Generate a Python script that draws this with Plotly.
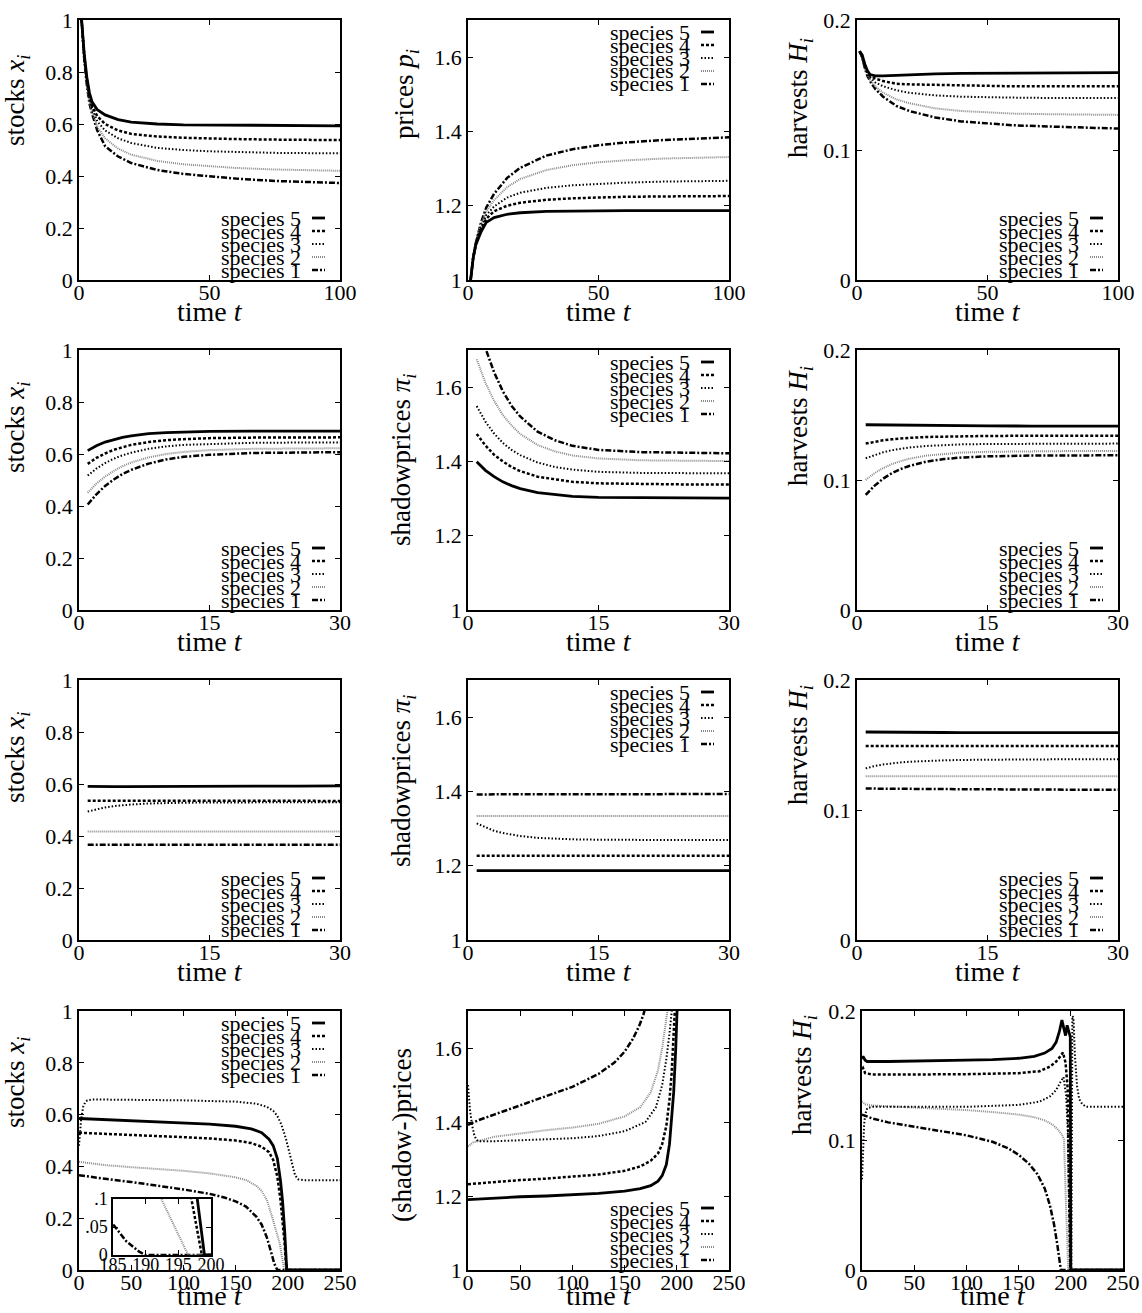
import plotly.graph_objects as go

W, H = 1142, 1313
FONT = "Liberation Serif, DejaVu Serif, serif"

# ---------------- Row 1 : t = 0..100 ----------------
r1_t = [1, 2, 3, 4, 5, 7, 10, 15, 20, 30, 40, 50, 60, 75, 100]
r1_x_s5 = [1.0, 0.87, 0.78, 0.72, 0.685, 0.655, 0.635, 0.617, 0.607, 0.600, 0.597, 0.596, 0.595, 0.594, 0.593]
r1_x_s4 = [1.0, 0.86, 0.77, 0.71, 0.67, 0.63, 0.60, 0.575, 0.562, 0.552, 0.547, 0.544, 0.542, 0.540, 0.538]
r1_x_s3 = [1.0, 0.86, 0.76, 0.70, 0.66, 0.61, 0.575, 0.545, 0.527, 0.508, 0.500, 0.495, 0.492, 0.489, 0.487]
r1_x_s2 = [1.0, 0.85, 0.75, 0.69, 0.65, 0.59, 0.545, 0.505, 0.482, 0.458, 0.445, 0.437, 0.431, 0.425, 0.420]
r1_x_s1 = [1.0, 0.85, 0.75, 0.68, 0.64, 0.575, 0.515, 0.475, 0.450, 0.423, 0.408, 0.398, 0.390, 0.381, 0.373]

r1_p_s5 = [1.0, 1.06, 1.095, 1.115, 1.13, 1.155, 1.168, 1.177, 1.181, 1.185, 1.186, 1.187, 1.187, 1.187, 1.187]
r1_p_s4 = [1.0, 1.06, 1.095, 1.12, 1.135, 1.165, 1.185, 1.200, 1.208, 1.216, 1.220, 1.222, 1.224, 1.225, 1.226]
r1_p_s3 = [1.0, 1.06, 1.10, 1.125, 1.14, 1.175, 1.198, 1.222, 1.235, 1.248, 1.255, 1.259, 1.262, 1.265, 1.267]
r1_p_s2 = [1.0, 1.06, 1.10, 1.13, 1.15, 1.185, 1.215, 1.250, 1.272, 1.296, 1.309, 1.317, 1.322, 1.327, 1.331]
r1_p_s1 = [1.0, 1.06, 1.10, 1.13, 1.155, 1.195, 1.232, 1.275, 1.302, 1.335, 1.352, 1.363, 1.370, 1.377, 1.384]

r1_h_s5 = [0.176, 0.173, 0.166, 0.161, 0.158, 0.157, 0.157, 0.1575, 0.158, 0.1585, 0.159, 0.159, 0.159, 0.1595, 0.1595]
r1_h_s4 = [0.176, 0.172, 0.165, 0.160, 0.157, 0.155, 0.153, 0.151, 0.1505, 0.150, 0.1495, 0.149, 0.149, 0.149, 0.149]
r1_h_s3 = [0.176, 0.172, 0.164, 0.159, 0.156, 0.152, 0.149, 0.146, 0.144, 0.142, 0.141, 0.1405, 0.1403, 0.140, 0.140]
r1_h_s2 = [0.176, 0.171, 0.163, 0.158, 0.154, 0.149, 0.144, 0.139, 0.136, 0.132, 0.130, 0.129, 0.128, 0.1275, 0.127]
r1_h_s1 = [0.176, 0.171, 0.163, 0.157, 0.153, 0.147, 0.141, 0.134, 0.130, 0.125, 0.122, 0.1205, 0.119, 0.118, 0.1165]

# ---------------- Row 2 : t = 0..30 ----------------
r2_t = [1, 2, 3, 4, 5, 6, 8, 10, 12, 15, 20, 25, 30]
r2_x_s5 = [0.613, 0.632, 0.646, 0.656, 0.664, 0.670, 0.678, 0.682, 0.685, 0.687, 0.688, 0.688, 0.688]
r2_x_s4 = [0.562, 0.585, 0.602, 0.616, 0.626, 0.635, 0.646, 0.653, 0.657, 0.661, 0.663, 0.664, 0.664]
r2_x_s3 = [0.517, 0.544, 0.565, 0.582, 0.595, 0.605, 0.620, 0.629, 0.635, 0.639, 0.643, 0.644, 0.644]
r2_x_s2 = [0.451, 0.486, 0.513, 0.535, 0.553, 0.567, 0.587, 0.600, 0.608, 0.615, 0.620, 0.621, 0.622]
r2_x_s1 = [0.406, 0.445, 0.477, 0.502, 0.523, 0.539, 0.563, 0.579, 0.589, 0.597, 0.604, 0.606, 0.607]

r2_pi_s5 = [1.399, 1.376, 1.359, 1.345, 1.335, 1.327, 1.316, 1.310, 1.306, 1.303, 1.302, 1.301, 1.301]
r2_pi_s4 = [1.474, 1.443, 1.418, 1.400, 1.385, 1.374, 1.359, 1.351, 1.345, 1.341, 1.339, 1.338, 1.338]
r2_pi_s3 = [1.549, 1.507, 1.475, 1.450, 1.431, 1.417, 1.397, 1.385, 1.378, 1.372, 1.369, 1.368, 1.368]
r2_pi_s2 = [1.675, 1.612, 1.563, 1.525, 1.497, 1.474, 1.444, 1.427, 1.416, 1.408, 1.403, 1.402, 1.401]
r2_pi_s1 = [1.790, 1.705, 1.640, 1.589, 1.550, 1.521, 1.480, 1.457, 1.442, 1.431, 1.425, 1.423, 1.422]

r2_h_s5 = [0.1425, 0.1424, 0.1423, 0.1422, 0.1421, 0.1420, 0.1419, 0.1418, 0.1417, 0.1416, 0.1415, 0.1415, 0.1415]
r2_h_s4 = [0.1280, 0.1294, 0.1305, 0.1313, 0.1319, 0.1324, 0.1331, 0.1334, 0.1337, 0.1339, 0.1340, 0.1340, 0.1340]
r2_h_s3 = [0.1167, 0.1193, 0.1213, 0.1229, 0.1241, 0.1250, 0.1262, 0.1269, 0.1274, 0.1277, 0.1279, 0.1280, 0.1280]
r2_h_s2 = [0.1000, 0.1052, 0.1091, 0.1122, 0.1145, 0.1163, 0.1188, 0.1202, 0.1211, 0.1217, 0.1221, 0.1223, 0.1223]
r2_h_s1 = [0.0885, 0.0955, 0.1010, 0.1052, 0.1084, 0.1108, 0.1142, 0.1161, 0.1173, 0.1182, 0.1188, 0.1189, 0.1190]

# ---------------- Row 3 : t = 0..30 ----------------
r3_t = [1, 2, 3, 4, 5, 6, 8, 10, 12, 15, 20, 25, 30]
r3_x_s5 = [0.591, 0.590, 0.590, 0.590, 0.590, 0.590, 0.590, 0.590, 0.590, 0.591, 0.591, 0.592, 0.593]
r3_x_s4 = [0.536, 0.536, 0.536, 0.536, 0.536, 0.536, 0.536, 0.535, 0.535, 0.535, 0.535, 0.535, 0.535]
r3_x_s3 = [0.494, 0.503, 0.510, 0.515, 0.519, 0.521, 0.525, 0.527, 0.528, 0.529, 0.530, 0.530, 0.530]
r3_x_s2 = [0.417, 0.417, 0.417, 0.417, 0.417, 0.417, 0.417, 0.417, 0.417, 0.417, 0.417, 0.417, 0.417]
r3_x_s1 = [0.366, 0.366, 0.366, 0.366, 0.366, 0.366, 0.366, 0.366, 0.366, 0.366, 0.366, 0.366, 0.366]

r3_pi_s5 = [1.187, 1.187, 1.187, 1.187, 1.187, 1.187, 1.187, 1.187, 1.187, 1.187, 1.187, 1.187, 1.187]
r3_pi_s4 = [1.227, 1.227, 1.227, 1.227, 1.227, 1.227, 1.227, 1.227, 1.227, 1.227, 1.227, 1.227, 1.227]
r3_pi_s3 = [1.314, 1.303, 1.294, 1.288, 1.283, 1.280, 1.275, 1.272, 1.271, 1.270, 1.269, 1.269, 1.269]
r3_pi_s2 = [1.334, 1.334, 1.334, 1.334, 1.334, 1.334, 1.334, 1.334, 1.334, 1.334, 1.334, 1.334, 1.334]
r3_pi_s1 = [1.392, 1.392, 1.392, 1.392, 1.392, 1.392, 1.392, 1.392, 1.392, 1.392, 1.392, 1.393, 1.393]

r3_h_s5 = [0.1600, 0.1599, 0.1598, 0.1597, 0.1597, 0.1596, 0.1596, 0.1596, 0.1595, 0.1595, 0.1595, 0.1595, 0.1595]
r3_h_s4 = [0.1492, 0.1492, 0.1492, 0.1492, 0.1492, 0.1492, 0.1492, 0.1492, 0.1492, 0.1492, 0.1492, 0.1492, 0.1492]
r3_h_s3 = [0.1320, 0.1338, 0.1350, 0.1360, 0.1366, 0.1371, 0.1378, 0.1382, 0.1385, 0.1388, 0.1389, 0.1390, 0.1390]
r3_h_s2 = [0.1260, 0.1260, 0.1260, 0.1260, 0.1260, 0.1260, 0.1260, 0.1260, 0.1260, 0.1260, 0.1260, 0.1260, 0.1260]
r3_h_s1 = [0.1165, 0.1165, 0.1164, 0.1164, 0.1163, 0.1163, 0.1162, 0.1161, 0.1160, 0.1159, 0.1157, 0.1156, 0.1155]

# ---------------- Row 4 : t = 0..250 (finite horizon) ----------------
r4_x_t5 = [0, 10, 25, 50, 75, 100, 125, 150, 165, 175, 182, 186, 190, 193, 195, 197, 197.9, 199, 200, 250]
r4_x_s5 = [0.585, 0.583, 0.580, 0.576, 0.572, 0.568, 0.563, 0.555, 0.545, 0.530, 0.505, 0.480, 0.430, 0.345, 0.265, 0.150, 0.100, 0.0, 0.0, 0.0]
r4_x_t4 = [0, 10, 25, 50, 75, 100, 125, 150, 165, 175, 182, 186, 190, 193, 195, 197, 198.6, 200, 250]
r4_x_s4 = [0.530, 0.528, 0.525, 0.521, 0.517, 0.513, 0.508, 0.500, 0.490, 0.476, 0.455, 0.425, 0.360, 0.270, 0.190, 0.100, 0.0, 0.0, 0.0]
r4_x_t3 = [0, 2, 4, 6, 8, 12, 25, 50, 100, 150, 170, 180, 186, 190, 194, 198, 201, 204, 207, 210, 215, 250]
r4_x_s3 = [0.480, 0.580, 0.630, 0.648, 0.655, 0.658, 0.658, 0.657, 0.655, 0.650, 0.642, 0.630, 0.615, 0.595, 0.560, 0.510, 0.460, 0.405, 0.365, 0.350, 0.347, 0.347]
r4_x_t2 = [0, 10, 25, 50, 75, 100, 125, 150, 160, 170, 175, 180, 185, 188, 190, 192.4, 194, 196.5, 200, 250]
r4_x_s2 = [0.418, 0.412, 0.405, 0.397, 0.390, 0.383, 0.373, 0.358, 0.347, 0.325, 0.305, 0.270, 0.205, 0.160, 0.130, 0.100, 0.060, 0.0, 0.0, 0.0]
r4_x_t1 = [0, 10, 25, 50, 75, 100, 125, 140, 150, 160, 170, 175, 180, 183, 185, 187, 189, 190, 200, 250]
r4_x_s1 = [0.366, 0.360, 0.352, 0.340, 0.326, 0.311, 0.294, 0.279, 0.265, 0.245, 0.205, 0.175, 0.125, 0.088, 0.055, 0.025, 0.006, 0.0, 0.0, 0.0]

r4_p_t5 = [0, 25, 50, 75, 100, 125, 150, 165, 175, 182, 186, 190, 193, 195, 197, 199, 200.5]
r4_p_s5 = [1.190, 1.195, 1.198, 1.200, 1.203, 1.207, 1.213, 1.220, 1.228, 1.240, 1.255, 1.285, 1.340, 1.400, 1.480, 1.600, 1.720]
r4_p_t4 = [0, 25, 50, 75, 100, 125, 150, 165, 175, 182, 186, 190, 193, 195, 197, 199]
r4_p_s4 = [1.232, 1.238, 1.243, 1.247, 1.252, 1.258, 1.268, 1.280, 1.295, 1.315, 1.340, 1.390, 1.460, 1.530, 1.640, 1.750]
r4_p_t3 = [0, 2, 4, 6, 8, 10, 25, 50, 75, 100, 125, 150, 170, 180, 186, 190, 193, 195, 197]
r4_p_s3 = [1.500, 1.430, 1.390, 1.365, 1.352, 1.348, 1.348, 1.350, 1.352, 1.356, 1.362, 1.375, 1.400, 1.440, 1.500, 1.570, 1.640, 1.690, 1.750]
r4_p_t2 = [0, 5, 25, 50, 75, 100, 125, 150, 165, 175, 182, 186, 189, 192]
r4_p_s2 = [1.334, 1.345, 1.360, 1.370, 1.378, 1.385, 1.395, 1.415, 1.440, 1.480, 1.540, 1.600, 1.660, 1.720]
r4_p_t1 = [0, 10, 25, 50, 75, 100, 125, 140, 150, 158, 164, 168, 172]
r4_p_s1 = [1.392, 1.405, 1.420, 1.445, 1.470, 1.495, 1.530, 1.560, 1.590, 1.625, 1.660, 1.690, 1.730]

r4_h_t5 = [0, 1, 3, 5, 25, 50, 75, 100, 125, 150, 165, 175, 182, 186, 189, 191.5, 193.5, 195, 196.5, 198, 199.5, 200, 250]
r4_h_s5 = [0.163, 0.165, 0.162, 0.161, 0.161, 0.1612, 0.1615, 0.162, 0.1625, 0.1635, 0.165, 0.1675, 0.171, 0.176, 0.184, 0.193, 0.186, 0.181, 0.189, 0.185, 0.180, 0.0, 0.0]
r4_h_t4 = [0, 1, 3, 10, 50, 100, 150, 170, 180, 186, 190, 192.5, 195, 197, 198.5, 199.5, 250]
r4_h_s4 = [0.155, 0.156, 0.152, 0.151, 0.151, 0.1512, 0.152, 0.1535, 0.157, 0.161, 0.165, 0.168, 0.160, 0.140, 0.050, 0.0, 0.0]
r4_h_t3 = [0, 1, 2, 3, 5, 10, 50, 100, 150, 170, 180, 186, 190, 193, 195.5, 197, 198.5, 199.5, 200.5, 201.5, 202.5, 204, 206, 208, 211, 215, 250]
r4_h_s3 = [0.070, 0.095, 0.112, 0.120, 0.125, 0.126, 0.126, 0.126, 0.1275, 0.130, 0.134, 0.139, 0.145, 0.149, 0.135, 0.110, 0.050, 0.0, 0.0, 0.196, 0.195, 0.165, 0.142, 0.132, 0.128, 0.126, 0.126]
r4_h_t2 = [0, 3, 10, 25, 50, 75, 100, 125, 150, 165, 175, 182, 187, 191, 193.5, 195, 196.5, 197.5, 250]
r4_h_s2 = [0.130, 0.128, 0.127, 0.1265, 0.1255, 0.1245, 0.1235, 0.122, 0.120, 0.118, 0.1155, 0.1125, 0.109, 0.105, 0.101, 0.060, 0.020, 0.0, 0.0]
r4_h_t1 = [0, 10, 25, 50, 75, 100, 125, 140, 150, 160, 168, 175, 180, 184, 187, 189, 190.5, 250]
r4_h_s1 = [0.120, 0.117, 0.114, 0.1105, 0.1075, 0.104, 0.099, 0.094, 0.089, 0.082, 0.074, 0.063, 0.050, 0.035, 0.020, 0.008, 0.0, 0.0]

# ---------------- axis / text definitions ----------------
stock_ticks = [0, 0.2, 0.4, 0.6, 0.8, 1]
stock_labels = ["0", "0.2", "0.4", "0.6", "0.8", "1"]
price_ticks = [1, 1.2, 1.4, 1.6]
price_labels = ["1", "1.2", "1.4", "1.6"]
harv_ticks = [0, 0.1, 0.2]
harv_labels = ["0", "0.1", "0.2"]
t100_ticks = [0, 50, 100]
t30_ticks = [0, 15, 30]
t250_ticks = [0, 50, 100, 150, 200, 250]
inset_xticks = [185, 190, 195, 200]
inset_yticks = [0, 0.05, 0.1]
inset_ylabels = ["0", ".05", ".1"]
species_names = ["species 1", "species 2", "species 3", "species 4", "species 5"]

T_STOCK = "stocks <i>x<sub>i</sub></i>"
T_PRICE = "prices <i>p<sub>i</sub></i>"
T_HARV = "harvests <i>H<sub>i</sub></i>"
T_SHADOW = "shadowprices <i>π<sub>i</sub></i>"
T_SP = "(shadow-)prices"
T_TIME = "time <i>t</i>"

STYLE = {
    1: dict(color="black", width=2.5, dash="6px,2px,2px,2px"),
    2: dict(color="#8a8a8a", width=2.0, dash="1px,1px"),
    3: dict(color="black", width=2.0, dash="1.5px,2px"),
    4: dict(color="black", width=2.5, dash="3px,2px"),
    5: dict(color="black", width=2.8, dash="solid"),
}

KIND = {
    "stock": ([0, 1], stock_ticks, stock_labels),
    "price": ([1, 1.7], price_ticks, price_labels),
    "harv": ([0, 0.2], harv_ticks, harv_labels),
}

COLS = [(79, 340), (468, 729), (857, 1118)]
ROWS = [(20, 280), (350, 610), (680, 940), (1011, 1270)]

panels = [
    dict(r=0, c=0, xr=[0, 100], xt=t100_ticks, kind="stock", title=T_STOCK, tpos=(17, 101), leg="br",
         ser=[(r1_t, r1_x_s1), (r1_t, r1_x_s2), (r1_t, r1_x_s3), (r1_t, r1_x_s4), (r1_t, r1_x_s5)]),
    dict(r=0, c=1, xr=[0, 100], xt=t100_ticks, kind="price", title=T_PRICE, tpos=(406, 94), leg="tr",
         ser=[(r1_t, r1_p_s1), (r1_t, r1_p_s2), (r1_t, r1_p_s3), (r1_t, r1_p_s4), (r1_t, r1_p_s5)]),
    dict(r=0, c=2, xr=[0, 100], xt=t100_ticks, kind="harv", title=T_HARV, tpos=(800, 98), leg="br",
         ser=[(r1_t, r1_h_s1), (r1_t, r1_h_s2), (r1_t, r1_h_s3), (r1_t, r1_h_s4), (r1_t, r1_h_s5)]),
    dict(r=1, c=0, xr=[0, 30], xt=t30_ticks, kind="stock", title=T_STOCK, tpos=(17, 428), leg="br",
         ser=[(r2_t, r2_x_s1), (r2_t, r2_x_s2), (r2_t, r2_x_s3), (r2_t, r2_x_s4), (r2_t, r2_x_s5)]),
    dict(r=1, c=1, xr=[0, 30], xt=t30_ticks, kind="price", title=T_SHADOW, tpos=(403, 460), leg="tr",
         ser=[(r2_t, r2_pi_s1), (r2_t, r2_pi_s2), (r2_t, r2_pi_s3), (r2_t, r2_pi_s4), (r2_t, r2_pi_s5)]),
    dict(r=1, c=2, xr=[0, 30], xt=t30_ticks, kind="harv", title=T_HARV, tpos=(800, 426), leg="br",
         ser=[(r2_t, r2_h_s1), (r2_t, r2_h_s2), (r2_t, r2_h_s3), (r2_t, r2_h_s4), (r2_t, r2_h_s5)]),
    dict(r=2, c=0, xr=[0, 30], xt=t30_ticks, kind="stock", title=T_STOCK, tpos=(17, 758), leg="br",
         ser=[(r3_t, r3_x_s1), (r3_t, r3_x_s2), (r3_t, r3_x_s3), (r3_t, r3_x_s4), (r3_t, r3_x_s5)]),
    dict(r=2, c=1, xr=[0, 30], xt=t30_ticks, kind="price", title=T_SHADOW, tpos=(403, 781), leg="tr",
         ser=[(r3_t, r3_pi_s1), (r3_t, r3_pi_s2), (r3_t, r3_pi_s3), (r3_t, r3_pi_s4), (r3_t, r3_pi_s5)]),
    dict(r=2, c=2, xr=[0, 30], xt=t30_ticks, kind="harv", title=T_HARV, tpos=(800, 745), leg="br",
         ser=[(r3_t, r3_h_s1), (r3_t, r3_h_s2), (r3_t, r3_h_s3), (r3_t, r3_h_s4), (r3_t, r3_h_s5)]),
    dict(r=3, c=0, xr=[0, 250], xt=t250_ticks, kind="stock", title=T_STOCK, tpos=(17, 1083), leg="tr",
         ser=[(r4_x_t1, r4_x_s1), (r4_x_t2, r4_x_s2), (r4_x_t3, r4_x_s3), (r4_x_t4, r4_x_s4), (r4_x_t5, r4_x_s5)]),
    dict(r=3, c=1, xr=[0, 250], xt=t250_ticks, kind="price", title=T_SP, tpos=(402, 1135), leg="br",
         ser=[(r4_p_t1, r4_p_s1), (r4_p_t2, r4_p_s2), (r4_p_t3, r4_p_s3), (r4_p_t4, r4_p_s4), (r4_p_t5, r4_p_s5)]),
    dict(r=3, c=2, xr=[0, 250], xt=t250_ticks, kind="harv", title=T_HARV, tpos=(804, 1075), leg=None,
         ser=[(r4_h_t1, r4_h_s1), (r4_h_t2, r4_h_s2), (r4_h_t3, r4_h_s3), (r4_h_t4, r4_h_s4), (r4_h_t5, r4_h_s5)],
         xpx=(862, 1123)),
]


def xp(px):
    return px / W


def yp(py):
    return 1 - py / H


fig = go.Figure()
layout = dict(
    width=W, height=H, autosize=False,
    margin=dict(l=0, r=0, t=0, b=0, pad=0, autoexpand=False),
    paper_bgcolor="white", plot_bgcolor="white", showlegend=False,
    font=dict(family=FONT, size=22, color="black"),
)
annotations = []
shapes = []


def axis_common(size=22, standoff=0):
    return dict(ticks="inside", ticklen=5, tickwidth=1, tickcolor="black",
                showline=True, linecolor="black", linewidth=1.5, mirror="ticks",
                showgrid=False, zeroline=False, automargin=False,
                ticklabelstandoff=standoff,
                tickfont=dict(family=FONT, size=size, color="black"))


for n, p in enumerate(panels, start=1):
    xa = "x" if n == 1 else f"x{n}"
    ya = "y" if n == 1 else f"y{n}"
    l, r = p.get("xpx", COLS[p["c"]])
    t, b = ROWS[p["r"]]
    yr, yt, yl = KIND[p["kind"]]
    layout["xaxis" if n == 1 else f"xaxis{n}"] = dict(
        domain=[xp(l), xp(r)], range=p["xr"], tickvals=p["xt"], anchor=ya, **axis_common(22, -8))
    layout["yaxis" if n == 1 else f"yaxis{n}"] = dict(
        domain=[yp(b), yp(t)], range=yr, tickvals=yt, ticktext=yl, anchor=xa, **axis_common(22, 0))
    for k, (tx, vy) in enumerate(p["ser"], start=1):
        fig.add_trace(go.Scatter(x=tx, y=vy, mode="lines", line=STYLE[k],
                                 xaxis=xa, yaxis=ya, hoverinfo="skip", showlegend=False))
    # axis titles
    if p["r"] == 3:
        time_ann = dict(y=0, yanchor="bottom")
    else:
        time_ann = dict(y=yp(b + 31), yanchor="middle")
    annotations.append(dict(text=T_TIME, x=xp((l + r) / 2), xref="paper", yref="paper",
                            xanchor="center", showarrow=False,
                            font=dict(family=FONT, size=28, color="black"), **time_ann))
    tx0, ty0 = p["tpos"]
    annotations.append(dict(text=p["title"], x=xp(tx0), y=yp(ty0), xref="paper", yref="paper",
                            xanchor="center", yanchor="middle", textangle=-90, showarrow=False,
                            font=dict(family=FONT, size=27, color="black")))
    # key
    if p["leg"]:
        for k in range(1, 6):
            if p["leg"] == "br":
                yy = b - 10 - (k - 1) * 13
            else:
                yy = t + 12 + (5 - k) * 13
            annotations.append(dict(text=species_names[k - 1], x=xp(r - 37), y=yp(yy),
                                    xref="paper", yref="paper", xanchor="right", yanchor="middle",
                                    showarrow=False, font=dict(family=FONT, size=22, color="black")))
            shapes.append(dict(type="line", xref="paper", yref="paper",
                               x0=xp(r - 28), x1=xp(r - 15), y0=yp(yy), y1=yp(yy),
                               line=STYLE[k]))

# inset in the bottom-left panel
n_in = len(panels) + 1
layout[f"xaxis{n_in}"] = dict(domain=[xp(113), xp(211)], range=[185, 200], tickvals=inset_xticks,
                              anchor=f"y{n_in}", **axis_common(18, -7))
layout[f"yaxis{n_in}"] = dict(domain=[yp(1255), yp(1199)], range=[0, 0.1], tickvals=inset_yticks,
                              ticktext=inset_ylabels, anchor=f"x{n_in}", **axis_common(18, 0))
for k, (tx, vy) in enumerate(panels[9]["ser"], start=1):
    fig.add_trace(go.Scatter(x=tx, y=vy, mode="lines", line=STYLE[k],
                             xaxis=f"x{n_in}", yaxis=f"y{n_in}", hoverinfo="skip", showlegend=False))

layout["annotations"] = annotations
layout["shapes"] = shapes
fig.update_layout(**layout)

fig.write_html("out.html", config={"displayModeBar": False},
               post_script="document.body.style.margin='0';document.body.style.overflow='hidden';")
